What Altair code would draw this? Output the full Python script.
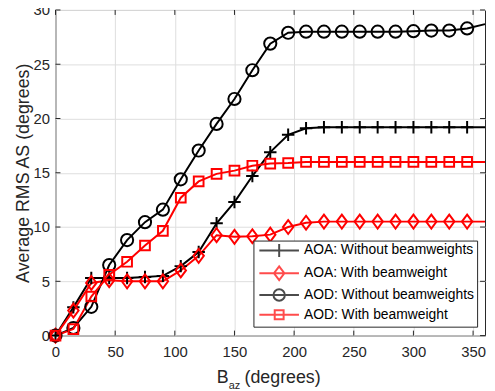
import altair as alt
import pandas as pd

# ---------------- data ----------------
x_vals = list(range(0, 361, 15))
aoa_without = [0, 2.6, 5.3, 5.3, 5.3, 5.4, 5.5, 6.4, 7.7, 10.35, 12.3, 14.7, 16.9,
               18.5, 19.1, 19.2, 19.2, 19.2, 19.2, 19.2, 19.2, 19.2, 19.2, 19.2, 19.2]
aoa_with = [0, 2.3, 4.85, 5.1, 5.0, 5.0, 5.0, 6.0, 7.35, 9.25, 9.1, 9.15, 9.3,
            10.0, 10.4, 10.5, 10.5, 10.5, 10.5, 10.5, 10.5, 10.5, 10.5, 10.5, 10.5]
aod_without = [0, 0.7, 2.65, 6.5, 8.8, 10.45, 11.6, 14.4, 17.05, 19.5, 21.8, 24.45, 26.9,
               27.9, 28.0, 28.0, 28.0, 28.0, 28.0, 28.0, 28.05, 28.1, 28.1, 28.3, 28.7]
aod_with = [0, 0.6, 3.6, 5.6, 6.8, 8.3, 9.65, 12.7, 14.2, 14.9, 15.2, 15.65, 15.85,
            15.9, 16.0, 16.0, 16.0, 16.0, 16.0, 16.0, 16.0, 16.0, 16.0, 16.0, 16.0]

series_names = ["AOA: Without beamweights", "AOA: With beamweight",
                "AOD: Without beamweights", "AOD: With beamweight"]
series_colors = ["#000000", "#ff0000", "#000000", "#ff0000"]
x_ticks = [0, 50, 100, 150, 200, 250, 300, 350]
y_ticks = [0, 5, 10, 15, 20, 25, 30]

# marker outlines (custom symbol paths)
marker_paths = [
    "M-0.9,0L0.9,0M0,-0.9L0,0.9",
    "M0,-1L0.75,0L0,1L-0.75,0Z",
    "M-0.88,0A0.88,0.88,0,1,0,0.88,0A0.88,0.88,0,1,0,-0.88,0Z",
    "M-0.7,-0.7L0.7,-0.7L0.7,0.7L-0.7,0.7Z",
]
legend_paths = [
    "M-4,0L4,0M0,-1.3L0,1.3",
    "M-4,0L4,0M0,-1.4L1.05,0L0,1.4L-1.05,0Z",
    "M-4,0L4,0M-1.15,0A1.15,1.15,0,1,0,1.15,0A1.15,1.15,0,1,0,-1.15,0Z",
    "M-4,0L4,0M-0.9,-0.9L0.9,-0.9L0.9,0.9L-0.9,0.9Z",
]

rows = []
for name, vals in zip(series_names, [aoa_without, aoa_with, aod_without, aod_with]):
    for i, (xv, yv) in enumerate(zip(x_vals, vals)):
        rows.append({"x": xv, "y": yv, "series": name, "order": i})
df = pd.DataFrame(rows)

# ---------------- layout ----------------
W, H = 434, 329
FONT = "Liberation Sans"
AX = "#262626"

xs = alt.Scale(domain=[0, 360], nice=False, zero=False)
ys = alt.Scale(domain=[0, 30], nice=False, zero=False)

x_axis = alt.Axis(values=x_ticks, title=None, grid=True, ticks=False, tickSize=0,
                  domain=False, labelPadding=9, labelFontSize=15, labelFont=FONT,
                  labelColor=AX, gridColor="#dedede", gridWidth=1, labelFlush=False)
y_axis = alt.Axis(values=y_ticks, title="Average RMS AS (degrees)", grid=True,
                  ticks=False, tickSize=0, domain=False, labelPadding=6,
                  labelFontSize=15, labelFont=FONT, labelColor=AX,
                  gridColor="#dedede", gridWidth=1, titleFont=FONT, titleFontSize=18,
                  titleFontWeight="normal", titleColor=AX, titleX=-27,
                  titleBaseline="alphabetic", labelFlush=False)


def X(field):
    return alt.X(field, type="quantitative", scale=xs, axis=x_axis)


def Y(field):
    return alt.Y(field, type="quantitative", scale=ys, axis=y_axis)


color_scale = alt.Scale(domain=series_names, range=series_colors)

lines = alt.Chart(df).mark_line(strokeWidth=2, clip=True).encode(
    x=X("x"), y=Y("y"),
    color=alt.Color("series:N", scale=color_scale, legend=None),
    order=alt.Order("order:Q"),
)

points = alt.Chart(df).transform_filter(alt.datum.x <= 345).mark_point(
    filled=False, strokeWidth=2, size=196, opacity=1
).encode(
    x=X("x"), y=Y("y"),
    color=alt.Color("series:N", scale=color_scale, legend=None),
    shape=alt.Shape("series:N", scale=alt.Scale(domain=series_names, range=marker_paths),
                    legend=None),
)

leg = alt.Legend(title=None, orient="none", legendX=200, legendY=233,
                 fillColor="white", strokeColor=AX, padding=3,
                 symbolSize=100, symbolStrokeWidth=2, symbolOffset=16,
                 labelOffset=18, labelFont=FONT, labelFontSize=14, labelColor="#000000",
                 rowPadding=1, labelLimit=300)

legend_layer = alt.Chart(df).transform_filter(alt.datum.x < -1).mark_point(
    filled=False, strokeWidth=2
).encode(
    x=X("x"), y=Y("y"),
    color=alt.Color("series:N", scale=alt.Scale(domain=series_names, range=series_colors),
                    legend=leg),
    shape=alt.Shape("series:N", scale=alt.Scale(domain=series_names, range=legend_paths),
                    legend=leg),
)

xt_df = pd.DataFrame({"x": x_ticks})
yt_df = pd.DataFrame({"y": y_ticks})
tick_bottom = alt.Chart(xt_df).mark_rule(color=AX, strokeWidth=1).encode(
    x=X("x"), y=alt.value(H), y2=alt.value(H - 5))
tick_top = alt.Chart(xt_df).mark_rule(color=AX, strokeWidth=1).encode(
    x=X("x"), y=alt.value(0), y2=alt.value(5))
tick_left = alt.Chart(yt_df).mark_rule(color=AX, strokeWidth=1).encode(
    y=Y("y"), x=alt.value(0), x2=alt.value(5))
tick_right = alt.Chart(yt_df).mark_rule(color=AX, strokeWidth=1).encode(
    y=Y("y"), x=alt.value(W - 5), x2=alt.value(W))

title_b = alt.Chart(pd.DataFrame({"t": ["B"]})).mark_text(
    align="left", baseline="alphabetic", font=FONT, fontSize=18, color=AX
).encode(text="t:N", x=alt.value(163), y=alt.value(377))
title_sub = alt.Chart(pd.DataFrame({"t": ["az"]})).mark_text(
    align="left", baseline="alphabetic", font=FONT, fontSize=11, color=AX
).encode(text="t:N", x=alt.value(175), y=alt.value(383))
title_rest = alt.Chart(pd.DataFrame({"t": ["(degrees)"]})).mark_text(
    align="left", baseline="alphabetic", font=FONT, fontSize=18, color=AX
).encode(text="t:N", x=alt.value(191), y=alt.value(377))

chart = alt.layer(
    tick_bottom, tick_top, tick_left, tick_right,
    lines, points, legend_layer,
    title_b, title_sub, title_rest,
).resolve_scale(
    color="independent", shape="independent"
).properties(
    width=W, height=H,
    autosize=alt.AutoSizeParams(type="none"),
    padding={"left": 48, "top": 0, "right": 2, "bottom": 54},
    background="white",
).configure_view(
    stroke=AX, strokeWidth=1, fill="white"
)

chart.save("out.html", embed_options={"renderer": "svg", "actions": False})
